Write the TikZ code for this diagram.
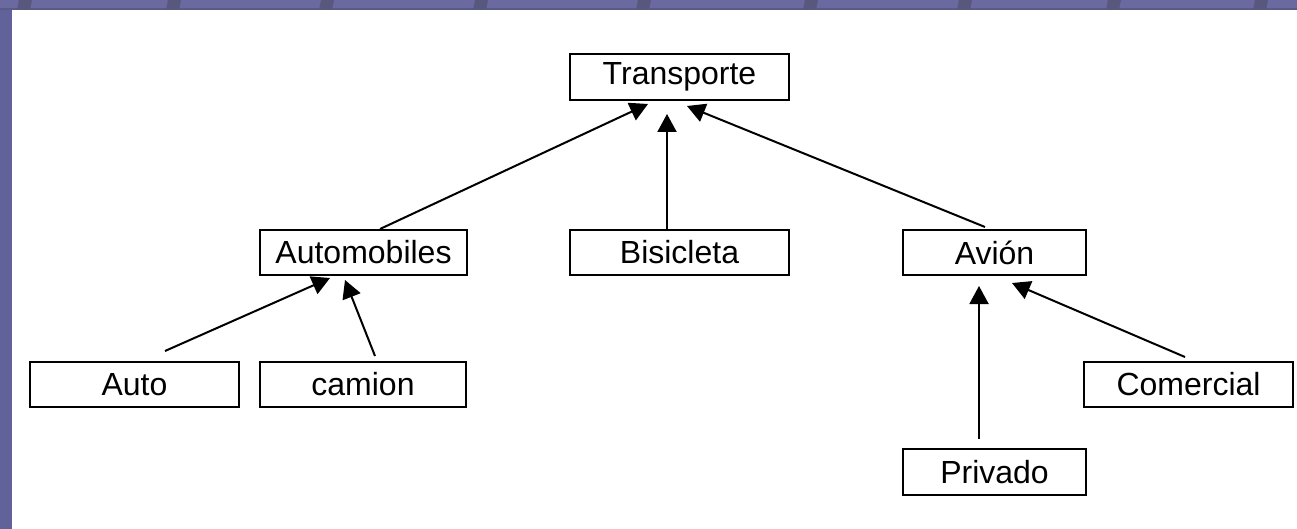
\documentclass[tikz,border=0pt]{standalone}
\usepackage{fontspec}
\setmainfont{Liberation Sans}
\usetikzlibrary{arrows.meta}
\definecolor{bgpurple}{HTML}{62629A}
\definecolor{strippurple}{HTML}{6A6AA0}
\definecolor{banddark}{HTML}{58587E}
\definecolor{stripline}{HTML}{5A5A88}
\tikzset{
  box/.style={draw=black, line width=2pt, fill=white, inner sep=0pt,
    font=\fontsize{32}{38}\selectfont},
  arr/.style={draw=black, line width=2pt, -{Triangle[length=18pt,width=19pt]}},
}
\begin{document}
\begin{tikzpicture}[x=1pt,y=-1pt]
\useasboundingbox (0,0) rectangle (1297,529);
% frame background
\fill[bgpurple] (0,0) rectangle (1297,529);
\fill[strippurple] (0,0) rectangle (1297,8);
\fill[stripline] (0,8) rectangle (1297,10);
\foreach \bx in {17,166,319,473,636,803,957,1106,1253}{
  \fill[banddark] (\bx+2,0) -- (\bx+15,0) -- (\bx+13,10) -- (\bx,10) -- cycle;
}
\fill[white] (12,10) rectangle (1297,529);
% nodes
\node[box, minimum width=219pt, minimum height=46pt] (transporte) at (679.5,77) {Transporte};
\node[box, minimum width=207pt, minimum height=45pt] (automobiles) at (363.5,252.5) {Automobiles};
\node[box, minimum width=219pt, minimum height=45pt] (bisicleta) at (679.5,252.5) {Bisicleta};
\node[box, minimum width=183pt, minimum height=45pt] (avion) at (994.5,252.5) {Avión};
\node[box, minimum width=209pt, minimum height=45pt] (auto) at (134.5,384.5) {Auto};
\node[box, minimum width=206pt, minimum height=45pt] (camion) at (363,384.5) {camion};
\node[box, minimum width=209pt, minimum height=45pt] (comercial) at (1188.5,384.5) {Comercial};
\node[box, minimum width=183pt, minimum height=46pt] (privado) at (994.5,472) {Privado};
% connectors
\draw[arr] ([xshift=16.5pt]automobiles.north) -- ([xshift=-31.5pt,yshift=-3pt]transporte.south);
\draw[arr] ([xshift=-12.5pt]bisicleta.north) -- ([xshift=-12.5pt,yshift=-13pt]transporte.south);
\draw[arr] ([xshift=-9.5pt,yshift=2pt]avion.north) -- ([xshift=7.5pt,yshift=-5pt]transporte.south);
\draw[arr] ([xshift=30.5pt,yshift=10pt]auto.north) -- ([xshift=-33.5pt,yshift=-2pt]automobiles.south);
\draw[arr] ([xshift=12pt,yshift=5pt]camion.north) -- ([xshift=-18.5pt,yshift=-4pt]automobiles.south);
\draw[arr] ([xshift=-15.5pt,yshift=9pt]privado.north) -- ([xshift=-15.5pt,yshift=-10pt]avion.south);
\draw[arr] ([xshift=-3.5pt,yshift=4pt]comercial.north) -- ([xshift=17.5pt,yshift=-7pt]avion.south);
\end{tikzpicture}
\end{document}
